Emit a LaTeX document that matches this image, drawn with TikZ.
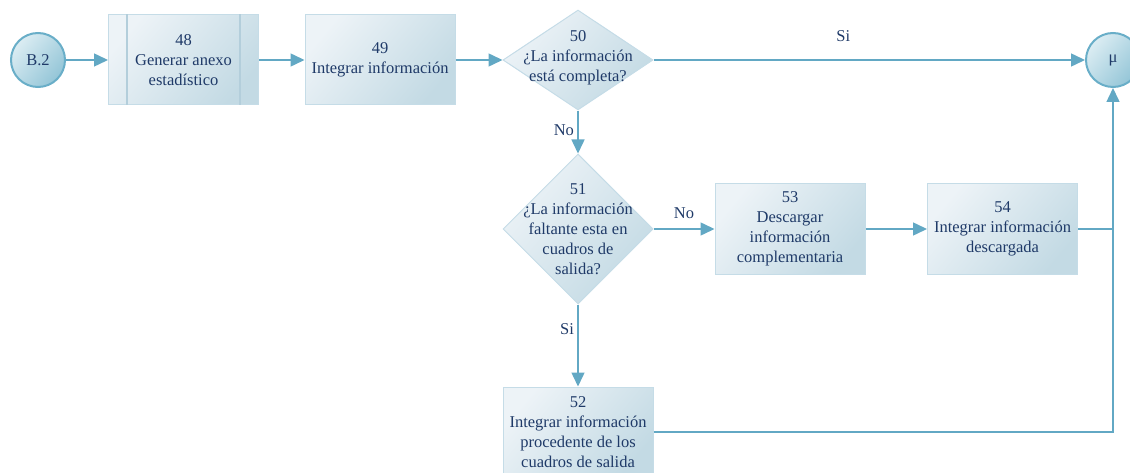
\documentclass[tikz,border=0pt]{standalone}
\usepackage{fontspec}
\setmainfont{Liberation Serif}
\usetikzlibrary{arrows.meta, positioning, shapes.geometric}
\definecolor{navytext}{HTML}{1F3A68}
\definecolor{flowline}{HTML}{62A8C4}
\definecolor{boxedge}{HTML}{C5DCE7}
\definecolor{stripline}{HTML}{B3CEDB}
\definecolor{boxlight}{HTML}{EDF3F7}
\definecolor{boxdark}{HTML}{C3DAE4}
\definecolor{circedge}{HTML}{69AEC8}
\definecolor{circlight}{HTML}{DCEDF3}
\definecolor{circdark}{HTML}{93C5D7}
\tikzset{
  flowtext/.style = {align=center, text=navytext,
    font=\fontsize{16.5}{20}\selectfont},
  proc/.style = {flowtext, rectangle, draw=boxedge, line width=1pt,
    left color=boxlight, right color=boxdark, shading angle=50,
    minimum width=150pt, minimum height=90pt, inner sep=0pt},
  subproc/.style = {proc},
  decision/.style = {diamond, draw=boxedge, line width=1pt, left color=boxlight,
    right color=boxdark, shading angle=50, minimum width=150pt,
    minimum height=100pt, inner sep=0pt},
  endpt/.style = {flowtext, circle, draw=circedge, line width=2pt,
    left color=circlight, right color=circdark, shading angle=50,
    minimum size=54pt, inner sep=0pt},
  flow/.style = {draw=flowline, line width=1.5pt,
    -{Triangle[length=14pt, width=13pt]}}
}

\begin{document}
\begin{tikzpicture}[x=1pt, y=-1pt]
\useasboundingbox (0,0) rectangle (1130,473);
\node [endpt] (b2) at (38,60) {B.2};
\node [subproc] (t48) at (183.5,60) {48\\Generar anexo\\estadístico};
\draw [stripline, line width=1.2pt]
  ([xshift=19pt]t48.north west) -- ([xshift=19pt]t48.south west)
  ([xshift=-19pt]t48.north east) -- ([xshift=-19pt]t48.south east);
\node [proc] (t49) at (380,60) {49\\Integrar información};
\node [decision] (d50) at (578,60) {};
\node [flowtext] (q50) at (578,58) {50\\¿La información\\está completa?};
\node [endpt] (mu) at (1113,60) {μ};
\node [decision, minimum height=150pt] (d51) at (578,229) {};
\node [flowtext] (q51) at (578,229)
  {51\\¿La información\\faltante esta en\\cuadros de\\salida?};
\node [proc] (t53) at (790,229) {53\\Descargar\\información\\complementaria};
\node [proc] (t54) at (1002.5,229) {54\\Integrar información\\descargada};
\node [proc] (t52) at (578,432)
  {52\\Integrar información\\procedente de los\\cuadros de salida};

% connectors
\draw [flow] (b2) -- (t48);
\draw [flow] (t48) -- (t49);
\draw [flow] (t49) -- (d50);
\draw [flow] (d50) -- node [flowtext, pos=0.44, above=14pt] (si50) {Si} (mu);
\draw [flow] (d50) -- node [flowtext, pos=0.45, left=0pt] (no50) {No} (d51);
\draw [flow] (d51) -- node [flowtext, pos=0.5, above=6pt] (no51) {No} (t53);
\draw [flow] (t53) -- (t54);
\draw [flow] (d51) -- node [flowtext, pos=0.3, left=0pt] (si51) {Si} (t52);
\draw [flow] (t52) -| (mu);
\draw [draw=flowline, line width=1.5pt] (t54.east) -- (t54.east -| mu.south);
\end{tikzpicture}
\end{document}
